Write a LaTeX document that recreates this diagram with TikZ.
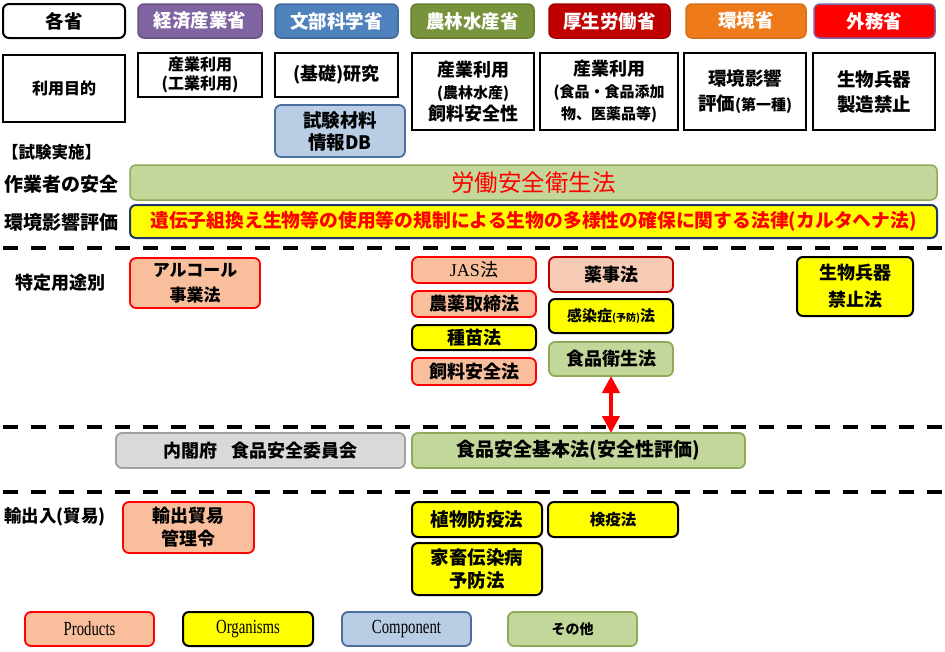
\documentclass[tikz,border=0pt]{standalone}
\usepackage{fontspec}
\setmainfont{Noto Sans CJK JP}
\newfontfamily\legfont{Liberation Serif}[FakeStretch=0.74]
\newfontfamily\serfont{Liberation Serif}
\usetikzlibrary{arrows.meta}
\definecolor{cpurple}{HTML}{8064A2}
\definecolor{cblue}{HTML}{4F81BD}
\definecolor{cgreen}{HTML}{77933C}
\definecolor{cdred}{HTML}{C00000}
\definecolor{corange}{HTML}{EE7A1A}
\definecolor{cred}{HTML}{FF0000}
\definecolor{cprod}{HTML}{F9BE9C}
\definecolor{cprodl}{HTML}{F6CBB6}
\definecolor{cyel}{HTML}{FFFF00}
\definecolor{ccomp}{HTML}{B9CDE5}
\definecolor{ccompb}{HTML}{4A6F9E}
\definecolor{cother}{HTML}{C4D79B}
\definecolor{cotherb}{HTML}{8EAA5A}
\definecolor{cgray}{HTML}{D9D9D9}
\definecolor{cgrayb}{HTML}{A0A0A0}
\definecolor{cnavy}{HTML}{1F3864}
\newcommand\fsz[2]{\fontsize{#1}{#2}\selectfont}
\newcommand\bx[7]{\node[#2, minimum width={#5-#3}, minimum height={#6-#4}] (#1) at ({(#3+#5)/2},{(#4+#6)/2}) {#7};}
\tikzset{
  base/.style={inner sep=0pt, outer sep=0pt, align=center, font=\bfseries\fsz{18}{22}},
  hdr/.style={base, rounded corners=6pt, line width=1.5pt, text=white, font=\bfseries\fsz{18.5}{22}},
  purp/.style={base, draw=black, line width=2.2pt, fill=white},
  prod/.style={base, rounded corners=6pt, draw=cred, line width=1.8pt, fill=cprod},
  orga/.style={base, rounded corners=6pt, draw=black, line width=2pt, fill=cyel},
  comp/.style={base, rounded corners=6pt, draw=ccompb, line width=1.8pt, fill=ccomp},
  othr/.style={base, rounded corners=6pt, draw=cotherb, line width=1.8pt, fill=cother},
  gray/.style={base, rounded corners=6pt, draw=cgrayb, line width=1.8pt, fill=cgray},
  lbl/.style={inner sep=0pt, anchor=west, font=\bfseries\fsz{18}{22}},
  sep/.style={line width=4pt, dash pattern=on 15pt off 13pt},
  dbl/.style={cred, line width=4pt, {Triangle[length=17pt,width=17pt]}-{Triangle[length=17pt,width=17pt]}},
}
\begin{document}
\begin{tikzpicture}[x=1pt,y=-1pt]
\useasboundingbox (0,0) rectangle (945,651);
% header row
\bx{h0}{hdr, draw=black, line width=2pt, fill=white, text=black}{3}{4}{125}{38}{各省}
\bx{h1}{hdr, draw=cpurple!80!black, fill=cpurple}{138}{4}{262}{38}{経済産業省}
\bx{h2}{hdr, draw=cblue!80!black, fill=cblue}{275}{4}{398}{38}{文部科学省}
\bx{h3}{hdr, draw=cgreen!85!black, fill=cgreen}{411}{4}{534}{38}{農林水産省}
\bx{h4}{hdr, draw=cdred!85!black, fill=cdred}{549}{4}{670}{38}{厚生労働省}
\bx{h5}{hdr, draw=corange!90!black, fill=corange}{686}{4}{806}{38}{環境省}
\bx{h6}{hdr, draw=cpurple, fill=cred}{814}{4}{935}{38}{外務省}
% purpose row
\bx{p0}{purp, font=\bfseries\fsz{16}{19}}{3}{55}{125}{122}{利用目的}
\bx{p1}{purp, font=\bfseries\fsz{16}{19}}{138}{53}{262}{97}{産業利用\\(工業利用)}
\bx{p2}{purp, font=\bfseries\fsz{18}{21}}{275}{53}{398}{97}{(基礎)研究}
\bx{p3}{purp}{412}{53}{534}{130}{\fsz{18}{23}産業利用\\\fsz{15}{23}(農林水産)\\\fsz{18}{23}飼料安全性}
\bx{p4}{purp}{540}{53}{678}{130}{\fsz{18}{22}産業利用\\\fsz{15}{21}(食品・食品添加\\\fsz{15}{21}物、医薬品等)}
\bx{p5}{purp, font=\bfseries\fsz{18.5}{25}}{684}{53}{806}{130}{環境影響\\評価{\fsz{15}{25}(第一種)}}
\bx{p6}{purp, font=\bfseries\fsz{18.5}{25}}{813}{53}{935}{130}{生物兵器\\製造禁止}
\bx{c1}{comp, font=\bfseries\fsz{18.5}{22}}{275}{105}{405}{157}{試験材料\\情報DB}
% section labels
\node[lbl, font=\bfseries\fsz{16.5}{18}] (s0) at (2,152) {【試験実施】};
\node[lbl, font=\bfseries\fsz{19}{22}] (s1) at (4,184) {作業者の安全};
\node[lbl, font=\bfseries\fsz{19}{22}] (s2) at (4,222) {環境影響評価};
\node[lbl] (s3) at (15,283) {特定用途別};
\node[lbl, font=\bfseries\fsz{17.5}{20}] (s4) at (4,517) {輸出入(貿易)};
% bars
\bx{bar1}{othr, line width=1.5pt, text=cred, font=\fsz{23.5}{26}}{130}{165}{937}{200}{労働安全衛生法}
\bx{bar2}{base, rounded corners=6pt, draw=cnavy, line width=2pt, fill=cyel, text=cred, font=\bfseries\fsz{18.8}{21}}{130}{205}{937}{238}{遺伝子組換え生物等の使用等の規制による生物の多様性の確保に関する法律(カルタヘナ法)}
% dashed separators
\coordinate (d1l) at (3,248); \coordinate (d1r) at (945,248);
\coordinate (d2l) at (3,427); \coordinate (d2r) at (945,427);
\coordinate (d3l) at (3,492); \coordinate (d3r) at (945,492);
\draw[sep] (d1l) -- (d1r);
\draw[sep] (d2l) -- (d2r);
\draw[sep] (d3l) -- (d3r);
% specific-use laws
\bx{a1}{prod, font=\bfseries\fsz{17}{25}}{130}{258}{260}{308}{アルコール\\事業法}
\bx{l1}{prod, font=\mdseries\fsz{18}{20}}{412}{257}{536}{283}{{\serfont JAS}法}
\bx{l2}{prod}{412}{291}{536}{317}{農薬取締法}
\bx{l3}{orga}{412}{325}{536}{350}{種苗法}
\bx{l4}{prod}{412}{358}{536}{385}{飼料安全法}
\bx{m1}{prod, draw=cdred, fill=cprodl}{549}{257}{673}{292}{薬事法}
\bx{m2}{orga, font=\bfseries\fsz{15}{18}}{549}{299}{673}{333}{感染症{\fsz{10}{18}(予防)}法}
\bx{m3}{othr}{549}{342}{673}{376}{食品衛生法}
\bx{b1}{orga, font=\bfseries\fsz{18}{27}}{797}{257}{913}{316}{生物兵器\\禁止法}
% food safety
\bx{f1}{gray}{116}{433}{405}{468}{内閣府\hspace{0.8em}食品安全委員会}
\bx{f2}{othr, font=\bfseries\fsz{19}{22}}{412}{433}{745}{468}{食品安全基本法(安全性評価)}
\draw[dbl] (m3.south) -- (m3.south |- f2.north);
% trade
\bx{t1}{prod, font=\bfseries\fsz{18}{23}}{123}{502}{254}{553}{輸出貿易\\管理令}
\bx{t2}{orga, font=\bfseries\fsz{18.5}{21}}{412}{502}{542}{537}{植物防疫法}
\bx{t3}{orga, font=\bfseries\fsz{15.5}{18}}{548}{502}{678}{537}{検疫法}
\bx{t4}{orga, font=\bfseries\fsz{18.5}{23}}{412}{543}{542}{595}{家畜伝染病\\予防法}
% legend
\bx{g1}{prod, font=\legfont\fsz{20}{22}}{25}{612}{154}{646}{Products}
\bx{g2}{orga, font=\legfont\fsz{20}{22}}{183}{612}{313}{646}{Organisms}
\bx{g3}{comp, font=\legfont\fsz{20}{22}}{342}{612}{471}{646}{Component}
\bx{g4}{othr, font=\bfseries\fsz{14}{16}}{508}{612}{637}{646}{その他}
\end{tikzpicture}
\end{document}
